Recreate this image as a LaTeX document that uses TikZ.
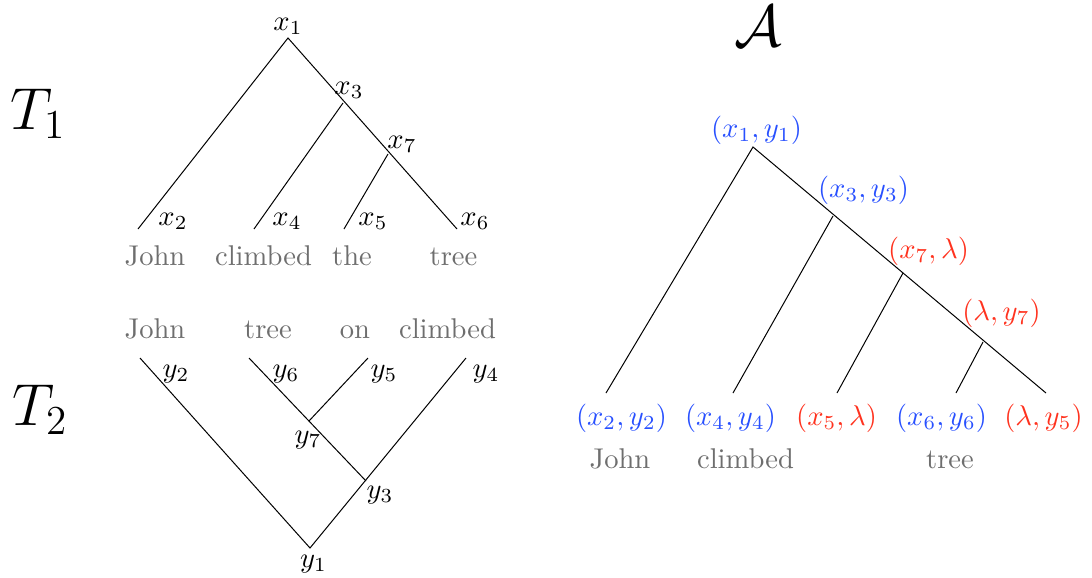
\documentclass[tikz,border=0pt]{standalone}
\usepackage{xcolor}
\definecolor{pblue}{RGB}{40,80,255}
\definecolor{pred}{RGB}{255,50,30}
\definecolor{wgray}{RGB}{110,110,110}
\tikzset{
  lbl/.style={inner sep=0pt, anchor=base},
  word/.style={inner sep=0pt, anchor=base, text=wgray},
  bl/.style={lbl, text=pblue},
  rd/.style={lbl, text=pred},
  edge/.style={draw=black, line width=0.35pt},
  big/.style={inner sep=0pt, font=\huge}
}
\begin{document}
\begin{tikzpicture}[x=0.35pt, y=-0.35pt]
\useasboundingbox (0,0) rectangle (1092,577);
% ---------- T1 ----------
\node[big] (T1) at (38,114) {$T_1$};
\coordinate (r1) at (288,38);
\coordinate (j3) at (343,103);
\coordinate (j7) at (388,154);
\coordinate (l2) at (138,229);
\coordinate (l4) at (254,229);
\coordinate (l5) at (344,229);
\coordinate (l6) at (457,229);
\draw[edge] (l2) -- (r1) -- (l6);
\draw[edge] (j3) -- (l4);
\draw[edge] (j7) -- (l5);
\node[lbl] (nx1) at (288,30) {$x_1$};
\node[lbl] (nx3) at (349,94) {$x_3$};
\node[lbl] (nx7) at (402,148) {$x_7$};
\node[lbl] (nx2) at (173,225) {$x_2$};
\node[lbl] (nx4) at (287,225) {$x_4$};
\node[lbl] (nx5) at (373,225) {$x_5$};
\node[lbl] (nx6) at (475,225) {$x_6$};
\node[word] (w1) at (155,265) {John};
\node[word] (w2) at (263.5,265) {climbed};
\node[word] (w3) at (352,265) {the};
\node[word] (w4) at (453.5,265) {tree};
% ---------- T2 ----------
\node[big] (T2) at (40,410) {$T_2$};
\coordinate (t2) at (140,358);
\coordinate (t6) at (249,358);
\coordinate (t5) at (368,358);
\coordinate (t4) at (466,358);
\coordinate (k7) at (309,421);
\coordinate (k3) at (366,481);
\coordinate (b1) at (310,548);
\draw[edge] (t2) -- (b1) -- (t4);
\draw[edge] (t6) -- (k3);
\draw[edge] (k7) -- (t5);
\node[lbl] (ny2) at (176,377) {$y_2$};
\node[lbl] (ny6) at (286,377) {$y_6$};
\node[lbl] (ny5) at (384,377) {$y_5$};
\node[lbl] (ny4) at (486,377) {$y_4$};
\node[lbl] (ny7) at (308,443) {$y_7$};
\node[lbl] (ny3) at (380,498) {$y_3$};
\node[lbl] (ny1) at (313.5,567) {$y_1$};
\node[word] (v1) at (155,338) {John};
\node[word] (v2) at (268,338) {tree};
\node[word] (v3) at (355,338) {on};
\node[word] (v4) at (447.5,338) {climbed};
% ---------- A ----------
\node[big] (A) at (758,26) {$\mathcal{A}$};
\coordinate (a1) at (753,147);
\coordinate (a3) at (833,216);
\coordinate (a7) at (903,273);
\coordinate (a8) at (983,342);
\coordinate (m2) at (606,393);
\coordinate (m4) at (733,393);
\coordinate (m5) at (837,393);
\coordinate (m6) at (956,393);
\coordinate (m9) at (1046,393);
\draw[edge] (m2) -- (a1) -- (m9);
\draw[edge] (a3) -- (m4);
\draw[edge] (a7) -- (m5);
\draw[edge] (a8) -- (m6);
\node[bl] (p1) at (756.5,137) {$(x_1,y_1)$};
\node[bl] (p3) at (863.5,197) {$(x_3,y_3)$};
\node[rd] (p7) at (928.5,258) {$(x_7,\lambda)$};
\node[rd] (p8) at (1001.5,320) {$(\lambda,y_7)$};
\node[bl] (q2) at (621.5,425) {$(x_2,y_2)$};
\node[bl] (q4) at (730.5,425) {$(x_4,y_4)$};
\node[rd] (q5) at (836.5,425) {$(x_5,\lambda)$};
\node[bl] (q6) at (941.5,425) {$(x_6,y_6)$};
\node[rd] (q9) at (1043.5,425) {$(\lambda,y_5)$};
\node[word] (u1) at (620,468) {John};
\node[word] (u2) at (745.5,468) {climbed};
\node[word] (u3) at (950,468) {tree};
\end{tikzpicture}
\end{document}
